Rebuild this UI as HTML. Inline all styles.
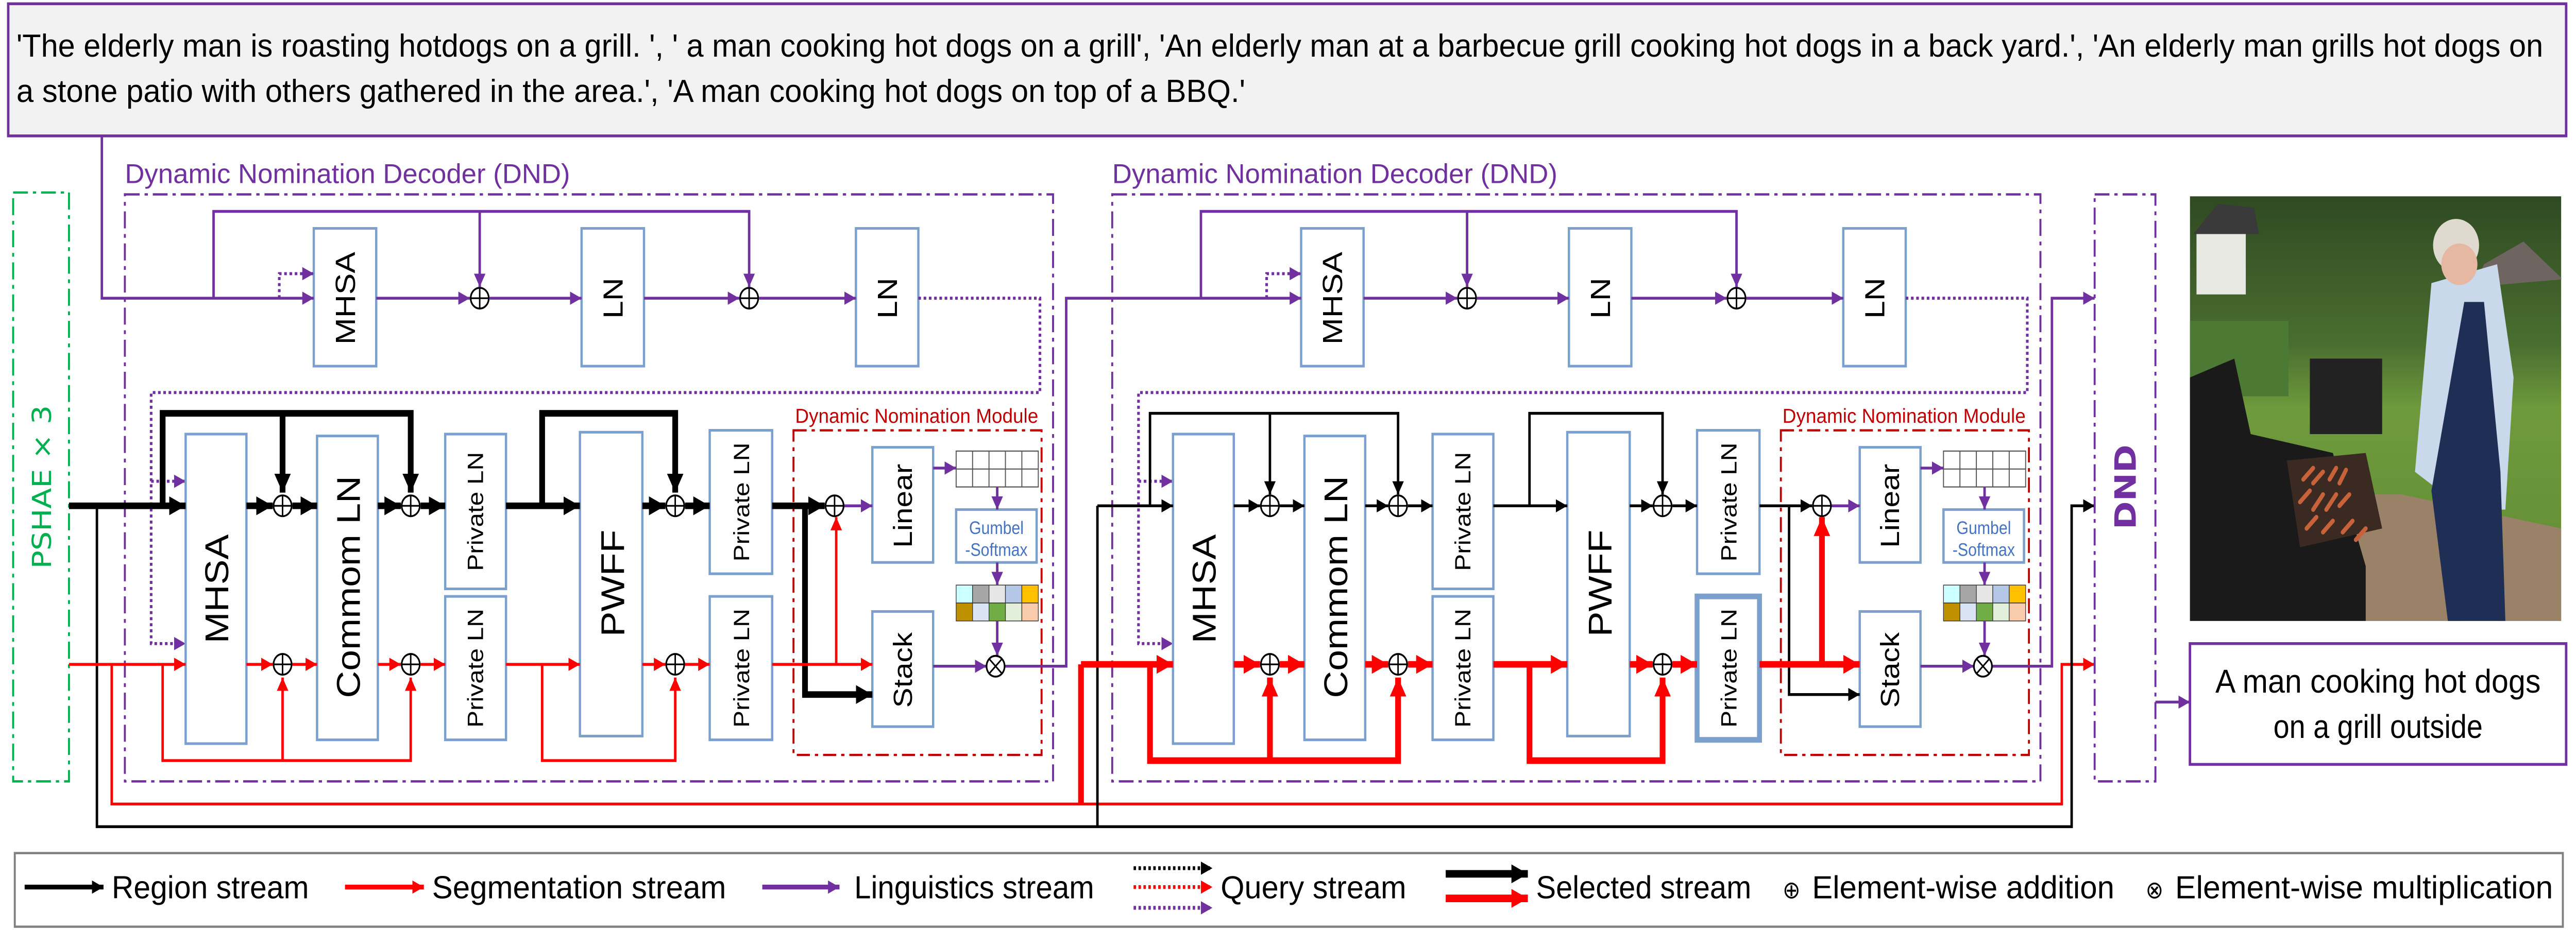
<!DOCTYPE html>
<html><head><meta charset="utf-8"><style>
html,body{margin:0;padding:0;background:#fff;width:100%;height:100%;overflow:hidden;}
svg{display:block;width:100vw;height:100vh;}
text{font-family:"Liberation Sans","DejaVu Sans",sans-serif;}
.bx{font-family:"DejaVu Sans","Liberation Sans",sans-serif;}
</style></head><body>
<svg viewBox="0 0 1568 492.75" preserveAspectRatio="none" xmlns="http://www.w3.org/2000/svg">
<defs>
<marker id="ak" markerUnits="userSpaceOnUse" viewBox="0 0 10 10" refX="10" refY="5" markerWidth="7" markerHeight="7" orient="auto"><path d="M0,0L10,5L0,10z" fill="#000"/></marker>
<marker id="aK" markerUnits="userSpaceOnUse" viewBox="0 0 10 10" refX="10" refY="5" markerWidth="10" markerHeight="11" orient="auto"><path d="M0,0L10,5L0,10z" fill="#000"/></marker>
<marker id="ar" markerUnits="userSpaceOnUse" viewBox="0 0 10 10" refX="10" refY="5" markerWidth="7" markerHeight="7" orient="auto"><path d="M0,0L10,5L0,10z" fill="#f00"/></marker>
<marker id="aR" markerUnits="userSpaceOnUse" viewBox="0 0 10 10" refX="10" refY="5" markerWidth="10" markerHeight="11" orient="auto"><path d="M0,0L10,5L0,10z" fill="#f00"/></marker>
<marker id="ap" markerUnits="userSpaceOnUse" viewBox="0 0 10 10" refX="10" refY="5" markerWidth="7" markerHeight="7" orient="auto"><path d="M0,0L10,5L0,10z" fill="#7030a0"/></marker>
<g id="op"><circle r="5.5" fill="#fff" stroke="#000" stroke-width="1"/><path d="M-5.5,0H5.5M0,-5.5V5.5" stroke="#000" stroke-width="0.9"/></g>
<g id="ox"><circle r="5.5" fill="#fff" stroke="#000" stroke-width="1"/><path d="M-3.9,-3.9L3.9,3.9M-3.9,3.9L3.9,-3.9" stroke="#000" stroke-width="0.9"/></g>

<g id="blk">
 <rect x="76" y="103" width="565" height="311" fill="none" stroke="#7030a0" stroke-width="1.2" stroke-dasharray="9 3 2 3"/>
 <text x="76" y="97" font-size="14.5" fill="#7030a0" textLength="271" lengthAdjust="spacingAndGlyphs">Dynamic Nomination Decoder (DND)</text>
 <g fill="#fff" stroke="#7ba0cd" stroke-width="1.4">
  <rect x="191" y="121" width="38" height="73"/><rect x="354" y="121" width="38" height="73"/><rect x="521" y="121" width="38" height="73"/>
 </g>
 <g class="bx" font-size="17" text-anchor="middle" fill="#000">
  <text transform="translate(216,158) rotate(-90)">MHSA</text>
  <text transform="translate(379,158) rotate(-90)">LN</text>
  <text transform="translate(546,158) rotate(-90)">LN</text>
 </g>
 <g fill="none" stroke="#7030a0" stroke-width="1.5">
  <path d="M130,158V112H456V152" marker-end="url(#ap)"/>
  <path d="M292,112V152" marker-end="url(#ap)"/>
  <path d="M229,158H286" marker-end="url(#ap)"/>
  <path d="M298,158H354" marker-end="url(#ap)"/>
  <path d="M392,158H450" marker-end="url(#ap)"/>
  <path d="M462,158H521" marker-end="url(#ap)"/>
 </g>
 <g fill="none" stroke="#7030a0" stroke-width="1.6" stroke-dasharray="1.6 1.6">
  <path d="M170,158V145H191" marker-end="url(#ap)"/>
  <path d="M559,158H633V208H92V341H113" marker-end="url(#ap)"/>
  <path d="M92,255H113" marker-end="url(#ap)"/>
 </g>
 <use href="#op" x="292" y="158"/><use href="#op" x="456" y="158"/>
 <g fill="#fff" stroke="#7ba0cd" stroke-width="1.4">
  <rect x="113" y="230" width="37" height="164"/>
  <rect x="193" y="231" width="37" height="161"/>
  <rect x="271" y="230" width="37" height="82"/>
  <rect x="271" y="316" width="37" height="76"/>
  <rect x="353" y="229" width="38" height="161"/>
  <rect x="432" y="228" width="38" height="76"/>
  <rect x="432" y="316" width="38" height="76"/>
  <rect x="531" y="237" width="37" height="61"/>
  <rect x="531" y="324" width="37" height="61"/>
  <rect x="582" y="270" width="49" height="28"/>
 </g>
 <g class="bx" font-size="20" text-anchor="middle" fill="#000">
  <text transform="translate(139,312) rotate(-90)">MHSA</text>
  <text transform="translate(219,311) rotate(-90)">Commom LN</text>
  <text transform="translate(380,309) rotate(-90)">PWFF</text>
 </g>
 <g class="bx" font-size="13.5" text-anchor="middle" fill="#000">
  <text transform="translate(294,271) rotate(-90)">Private LN</text>
  <text transform="translate(294,354) rotate(-90)">Private LN</text>
  <text transform="translate(456,266) rotate(-90)">Private LN</text>
  <text transform="translate(456,354) rotate(-90)">Private LN</text>
 </g>
 <g class="bx" font-size="16" text-anchor="middle" fill="#000">
  <text transform="translate(555,268) rotate(-90)">Linear</text>
  <text transform="translate(555,355) rotate(-90)">Stack</text>
 </g>
 <rect x="483" y="228" width="151" height="172" fill="none" stroke="#c00000" stroke-width="1.2" stroke-dasharray="8 3 2 3"/>
 <text x="484" y="224" font-size="10.5" fill="#c00000" textLength="148" lengthAdjust="spacingAndGlyphs">Dynamic Nomination Module</text>
 <g fill="none" stroke="#555" stroke-width="0.6">
  <rect x="582" y="239" width="50" height="19"/>
  <path d="M592,239V258M602,239V258M612,239V258M622,239V258M582,248.5H632"/>
 </g>
 <g stroke="#333" stroke-width="0.4">
  <rect x="582" y="310" width="10" height="9.5" fill="#ccffff"/><rect x="592" y="310" width="10" height="9.5" fill="#a6a6a6"/><rect x="602" y="310" width="10" height="9.5" fill="#e7e6e6"/><rect x="612" y="310" width="10" height="9.5" fill="#b4c7e7"/><rect x="622" y="310" width="10" height="9.5" fill="#ffc000"/>
  <rect x="582" y="319.5" width="10" height="9.5" fill="#bf9000"/><rect x="592" y="319.5" width="10" height="9.5" fill="#dae3f3"/><rect x="602" y="319.5" width="10" height="9.5" fill="#70ad47"/><rect x="612" y="319.5" width="10" height="9.5" fill="#e2efda"/><rect x="622" y="319.5" width="10" height="9.5" fill="#f8cbad"/>
 </g>
 <text x="606.5" y="283" font-size="9.5" fill="#4472c4" text-anchor="middle">Gumbel</text>
 <text x="606.5" y="294.5" font-size="9.5" fill="#4472c4" text-anchor="middle">-Softmax</text>
 <g fill="none" stroke="#7030a0" stroke-width="1.5">
  <path d="M568,248H582" marker-end="url(#ap)"/>
  <path d="M607,258V270" marker-end="url(#ap)"/>
  <path d="M607,298V310" marker-end="url(#ap)"/>
  <path d="M607,329V347.5" marker-end="url(#ap)"/>
  <path d="M568,353H600.5" marker-end="url(#ap)"/>
  <path d="M513.5,268H531" marker-end="url(#ap)"/>
 </g>
</g>
</defs>

<rect x="5" y="2" width="1557" height="70" fill="#f2f2f2" stroke="#7030a0" stroke-width="1.5"/>
<text x="10" y="30" font-size="17" textLength="1538" lengthAdjust="spacingAndGlyphs">'The elderly man is roasting hotdogs on a grill. ', ' a man cooking hot dogs on a grill', 'An elderly man at a barbecue grill cooking hot dogs in a back yard.', 'An elderly man grills hot dogs on</text>
<text x="10" y="54" font-size="17" textLength="748" lengthAdjust="spacingAndGlyphs">a stone patio with others gathered in the area.', 'A man cooking hot dogs on top of a BBQ.'</text>

<rect x="8" y="102" width="34" height="312" fill="none" stroke="#00b050" stroke-width="1.2" stroke-dasharray="9 3 2 3"/>
<text class="bx" transform="translate(31,258) rotate(-90)" font-size="16" fill="#00b050" text-anchor="middle">PSHAE × 3</text>

<use href="#blk"/>
<use href="#blk" transform="translate(601,0)"/>
<rect x="1033" y="316" width="38" height="76" fill="none" stroke="#7ba0cd" stroke-width="3"/>

<path d="M62,72V158H191" fill="none" stroke="#7030a0" stroke-width="1.5" marker-end="url(#ap)"/>
<path d="M611.5,353H649V158H792" fill="none" stroke="#7030a0" stroke-width="1.5" marker-end="url(#ap)"/>
<path d="M1212.5,353H1249V158H1275" fill="none" stroke="#7030a0" stroke-width="1.5" marker-end="url(#ap)"/>

<path d="M68,352V426H1255V352H1275" fill="none" stroke="#f00" stroke-width="1.5" marker-end="url(#ar)"/>
<path d="M658,426V352" fill="none" stroke="#f00" stroke-width="3.5"/>
<path d="M59,268V438H1261V268H1275" fill="none" stroke="#000" stroke-width="1.5" marker-end="url(#ak)"/>
<path d="M668,438V268" fill="none" stroke="#000" stroke-width="1.5"/>

<g fill="none" stroke="#000" stroke-width="3.5">
 <path d="M42,268H113" marker-end="url(#aK)"/>
 <path d="M99,268V219H250V261" marker-end="url(#aK)"/>
 <path d="M172,219V261" marker-end="url(#aK)"/>
 <path d="M150,268H166" marker-end="url(#aK)"/>
 <path d="M178,268H193" marker-end="url(#aK)"/>
 <path d="M230,268H244" marker-end="url(#aK)"/>
 <path d="M256,268H271" marker-end="url(#aK)"/>
 <path d="M308,268H353" marker-end="url(#aK)"/>
 <path d="M330,268V219H411V261" marker-end="url(#aK)"/>
 <path d="M391,268H405" marker-end="url(#aK)"/>
 <path d="M417,268H432" marker-end="url(#aK)"/>
 <path d="M470,268H502" marker-end="url(#aK)"/>
 <path d="M490,268V368H531" marker-end="url(#aK)"/>
</g>
<g fill="none" stroke="#f00" stroke-width="1.5">
 <path d="M42,352H113" marker-end="url(#ar)"/>
 <path d="M99,352V403H250V359" marker-end="url(#ar)"/>
 <path d="M172,403V359" marker-end="url(#ar)"/>
 <path d="M150,352H166" marker-end="url(#ar)"/>
 <path d="M178,352H193" marker-end="url(#ar)"/>
 <path d="M230,352H244" marker-end="url(#ar)"/>
 <path d="M256,352H271" marker-end="url(#ar)"/>
 <path d="M308,352H353" marker-end="url(#ar)"/>
 <path d="M330,352V403H411V359" marker-end="url(#ar)"/>
 <path d="M391,352H405" marker-end="url(#ar)"/>
 <path d="M417,352H432" marker-end="url(#ar)"/>
 <path d="M470,352H531" marker-end="url(#ar)"/>
 <path d="M509,352V274" marker-end="url(#ar)"/>
</g>
<g fill="none" stroke="#000" stroke-width="1.5">
 <path d="M668,268H714" marker-end="url(#ak)"/>
 <path d="M700,268V219H851V262" marker-end="url(#ak)"/>
 <path d="M773,219V262" marker-end="url(#ak)"/>
 <path d="M751,268H767" marker-end="url(#ak)"/>
 <path d="M779,268H794" marker-end="url(#ak)"/>
 <path d="M831,268H845" marker-end="url(#ak)"/>
 <path d="M857,268H872" marker-end="url(#ak)"/>
 <path d="M909,268H954" marker-end="url(#ak)"/>
 <path d="M931,268V219H1012V262" marker-end="url(#ak)"/>
 <path d="M992,268H1006" marker-end="url(#ak)"/>
 <path d="M1018,268H1033" marker-end="url(#ak)"/>
 <path d="M1071,268H1103" marker-end="url(#ak)"/>
 <path d="M1089,268V368H1132" marker-end="url(#ak)"/>
</g>
<g fill="none" stroke="#f00" stroke-width="3.5">
 <path d="M658,352H714" marker-end="url(#aR)"/>
 <path d="M700,352V403H851V359" marker-end="url(#aR)"/>
 <path d="M773,403V359" marker-end="url(#aR)"/>
 <path d="M751,352H767" marker-end="url(#aR)"/>
 <path d="M779,352H794" marker-end="url(#aR)"/>
 <path d="M831,352H845" marker-end="url(#aR)"/>
 <path d="M857,352H872" marker-end="url(#aR)"/>
 <path d="M909,352H954" marker-end="url(#aR)"/>
 <path d="M931,352V403H1012V359" marker-end="url(#aR)"/>
 <path d="M992,352H1006" marker-end="url(#aR)"/>
 <path d="M1018,352H1033" marker-end="url(#aR)"/>
 <path d="M1071,352H1132" marker-end="url(#aR)"/>
 <path d="M1109,352V274" marker-end="url(#aR)"/>
</g>

<use href="#op" x="172" y="268"/><use href="#op" x="250" y="268"/><use href="#op" x="411" y="268"/><use href="#op" x="508" y="268"/>
<use href="#op" x="172" y="352"/><use href="#op" x="250" y="352"/><use href="#op" x="411" y="352"/>
<use href="#ox" x="606" y="353"/>
<use href="#op" x="773" y="268"/><use href="#op" x="851" y="268"/><use href="#op" x="1012" y="268"/><use href="#op" x="1109" y="268"/>
<use href="#op" x="773" y="352"/><use href="#op" x="851" y="352"/><use href="#op" x="1012" y="352"/>
<use href="#ox" x="1207" y="353"/>

<rect x="1275" y="103" width="37" height="311" fill="none" stroke="#7030a0" stroke-width="1.2" stroke-dasharray="9 3 2 3"/>
<text class="bx" transform="translate(1300,258) rotate(-90)" font-size="18" font-weight="bold" fill="#7030a0" text-anchor="middle">DND</text>
<path d="M1312,372H1333" fill="none" stroke="#7030a0" stroke-width="1.5" marker-end="url(#ap)"/>

<defs><clipPath id="ph"><rect x="1333" y="104" width="226" height="225"/></clipPath>
 <linearGradient id="bg" x1="0" y1="0" x2="0" y2="1"><stop offset="0" stop-color="#2f4a22"/><stop offset="0.35" stop-color="#4a6e30"/><stop offset="0.5" stop-color="#6f9a3c"/><stop offset="1" stop-color="#5f8a35"/></linearGradient></defs>
<g clip-path="url(#ph)">
 <rect x="1333" y="104" width="226" height="225" fill="url(#bg)"/>
 <rect x="1337" y="122" width="30" height="34" fill="#e8e8e2"/><path d="M1335,124L1350,108L1372,110L1375,124z" fill="#3a3a3a"/>
 <path d="M1512,140L1536,128L1560,148L1506,152z" fill="#6e6560"/>
 <rect x="1333" y="170" width="60" height="40" fill="#4c7a34"/>
 <path d="M1416,262L1462,262L1559,280L1559,329L1440,329z" fill="#9a8268"/>
 <path d="M1333,200L1360,190L1370,230L1420,240L1440,300L1440,329L1333,329z" fill="#1a1a1a"/>
 <rect x="1406" y="190" width="44" height="40" fill="#222"/>
 <path d="M1392,244L1440,240L1450,280L1400,290z" fill="#3a2a22"/>
 <g stroke="#c8623a" stroke-width="2.4" stroke-linecap="round">
  <path d="M1402,254L1408,248M1408,256L1414,250M1418,254L1422,248M1424,256L1428,249M1400,266L1406,260M1408,270L1414,262M1416,270L1422,262M1424,268L1430,262M1404,280L1410,274M1414,282L1420,276M1426,282L1432,276M1434,286L1440,280"/>
 </g>
 <rect x="1500" y="250" width="20" height="79" fill="#c2b08a"/>
 <path d="M1480,150L1520,140L1530,200L1525,270L1500,270L1470,250z" fill="#c9d8ea"/>
 <path d="M1500,160L1512,160L1522,250L1525,329L1490,329L1480,260z" fill="#1f2e55"/>
 <circle cx="1495" cy="130" r="14" fill="#dfd9cf"/>
 <circle cx="1497" cy="140" r="11" fill="#e6b8a4"/>
</g>
<rect x="1333" y="341" width="229" height="64" fill="#fff" stroke="#7030a0" stroke-width="1.5"/>
<text x="1447.5" y="367" font-size="17.5" text-anchor="middle" textLength="198" lengthAdjust="spacingAndGlyphs">A man cooking hot dogs</text>
<text x="1447.5" y="391" font-size="17.5" text-anchor="middle">on a grill outside</text>

<rect x="9" y="452" width="1551" height="39" fill="#fff" stroke="#808080" stroke-width="1.2"/>
<g font-size="17" fill="#000">
 <path d="M15,470H63" stroke="#000" stroke-width="2.5" marker-end="url(#ak)"/>
 <text x="68" y="476" textLength="120" lengthAdjust="spacingAndGlyphs">Region stream</text>
 <path d="M210,470H258" stroke="#f00" stroke-width="2.5" marker-end="url(#ar)"/>
 <text x="263" y="476" textLength="179" lengthAdjust="spacingAndGlyphs">Segmentation stream</text>
 <path d="M464,470H511" stroke="#7030a0" stroke-width="2.5" marker-end="url(#ap)"/>
 <text x="520" y="476" textLength="146" lengthAdjust="spacingAndGlyphs">Linguistics stream</text>
 <g stroke-width="2" stroke-dasharray="1.5 1.5">
  <path d="M690,460H738" stroke="#000" marker-end="url(#ak)"/>
  <path d="M690,470H738" stroke="#f00" marker-end="url(#ar)"/>
  <path d="M690,481H738" stroke="#7030a0" marker-end="url(#ap)"/>
 </g>
 <text x="743" y="476" textLength="113" lengthAdjust="spacingAndGlyphs">Query stream</text>
 <path d="M880,463H930" stroke="#000" stroke-width="4" marker-end="url(#aK)"/>
 <path d="M880,476H930" stroke="#f00" stroke-width="4" marker-end="url(#aR)"/>
 <text x="935" y="476" textLength="131" lengthAdjust="spacingAndGlyphs">Selected stream</text>
 <text x="1085" y="476" font-size="13">⊕</text>
 <text x="1103" y="476" textLength="184" lengthAdjust="spacingAndGlyphs">Element-wise addition</text>
 <text x="1306" y="476" font-size="13">⊗</text>
 <text x="1324" y="476" textLength="230" lengthAdjust="spacingAndGlyphs">Element-wise multiplication</text>
</g>
</svg>
</body></html>
